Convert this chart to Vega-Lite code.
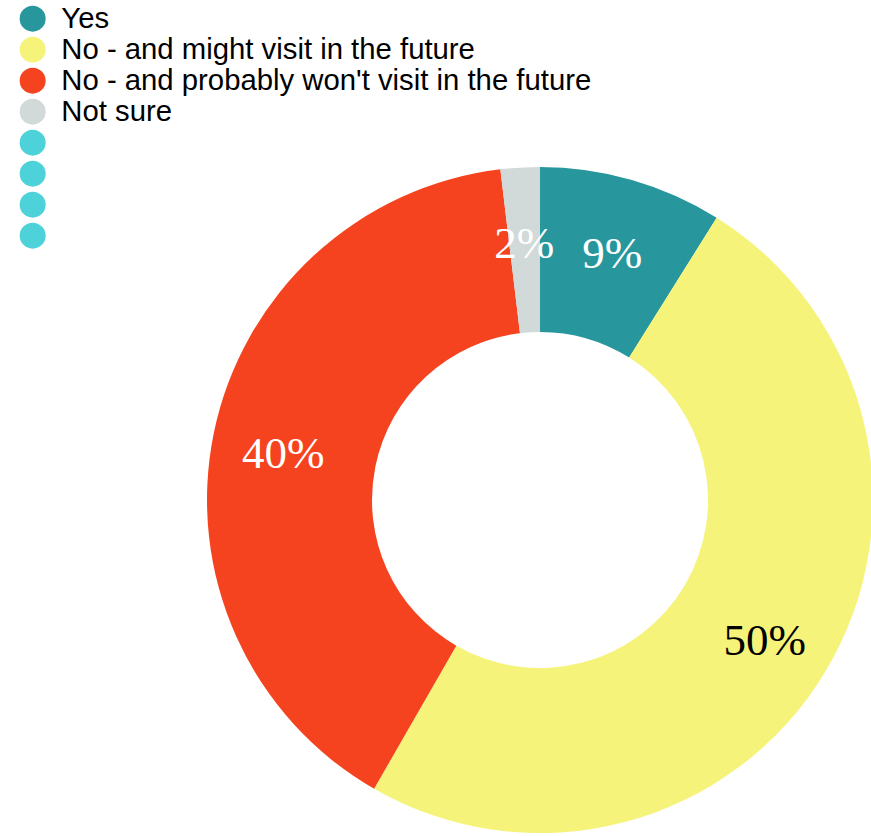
{
  "$schema": "https://vega.github.io/schema/vega-lite/v6.json",
  "width": 666,
  "height": 666,
  "autosize": {"type": "none"},
  "padding": {"left": 207, "top": 167, "right": 0, "bottom": 3},
  "background": "white",
  "view": {"stroke": null},
  "data": {
    "values": [
      {"answer": "Yes", "share": 8.9, "label": "9%", "order": 1},
      {"answer": "No - and might visit in the future", "share": 49.4, "label": "50%", "order": 2},
      {"answer": "No - and probably won't visit in the future", "share": 39.8, "label": "40%", "order": 3},
      {"answer": "Not sure", "share": 1.9, "label": "2%", "order": 4}
    ]
  },
  "encoding": {
    "theta": {"field": "share", "type": "quantitative", "stack": true},
    "order": {"field": "order", "type": "quantitative"}
  },
  "layer": [
    {
      "mark": {"type": "arc", "innerRadius": 168, "outerRadius": 333},
      "encoding": {
        "color": {
          "field": "answer",
          "type": "nominal",
          "sort": null,
          "scale": {
            "domain": ["Yes", "No - and might visit in the future", "No - and probably won't visit in the future", "Not sure", "_1", "_2", "_3", "_4"],
            "range": ["#27979d", "#f6f37a", "#f5431f", "#d1d9d9", "#4dd2d9", "#4dd2d9", "#4dd2d9", "#4dd2d9"]
          },
          "legend": {
            "title": null,
            "orient": "none",
            "legendX": -189,
            "legendY": -163,
            "symbolType": "circle",
            "symbolSize": 676,
            "symbolStrokeWidth": 0,
            "symbolOpacity": 1,
            "labelFont": "Liberation Sans",
            "labelFontSize": 29.3,
            "labelColor": "black",
            "labelOffset": 14,
            "labelLimit": 800,
            "rowPadding": 1,
            "labelExpr": "indexof(datum.label, '_') == 0 ? '' : datum.label"
          }
        }
      }
    },
    {
      "mark": {"type": "text", "radius": 262, "dy": 6, "font": "Liberation Serif", "fontSize": 45, "baseline": "middle", "align": "center"},
      "encoding": {
        "text": {"field": "label", "type": "nominal"},
        "color": {
          "condition": {"test": "datum.answer == 'No - and might visit in the future'", "value": "black"},
          "value": "white"
        }
      }
    }
  ]
}
